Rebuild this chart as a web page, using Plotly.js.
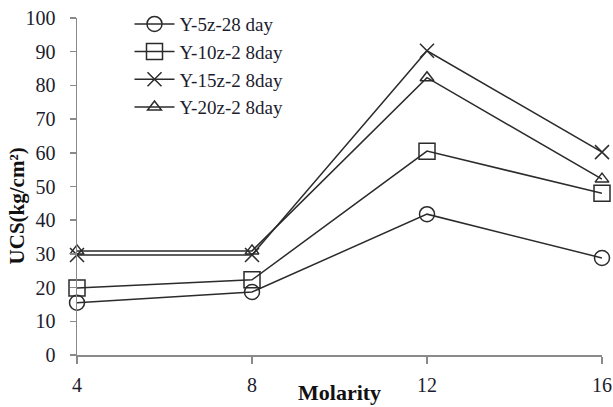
<!DOCTYPE html>
<html><head><meta charset="utf-8">
<script src="https://cdn.plot.ly/plotly-3.0.1.min.js"></script>
<style>html,body{margin:0;padding:0;background:#fff}#chart{width:613px;height:407px}</style>
</head><body><div id="chart"></div>
<script>
const molarity = [4, 8, 12, 16];
const seriesNames = ["Y-5z-28 day", "Y-10z-2 8day", "Y-15z-2 8day", "Y-20z-2 8day"];
const y5 = [15.5, 18.7, 41.8, 28.8];
const y10 = [19.9, 22.3, 60.5, 48.0];
const y15 = [29.7, 29.7, 90.3, 60.2];
const y20 = [30.9, 30.9, 82.3, 52.2];
const yTicks = [0,10,20,30,40,50,60,70,80,90,100];
const xTitle = "Molarity";
const yTitle = "UCS(kg/cm²)";

const symbols = ["circle-open", "square-open", "x-thin-open", "triangle-up-open"];
const sizes = [15, 16, 14, 12];
const all = [y5, y10, y15, y20];
const traces = all.map((v, i) => ({
  x: molarity, y: v, name: seriesNames[i], type: "scatter", mode: "lines+markers",
  line: {color: "#2b2b2b", width: 1.5},
  marker: {symbol: symbols[i], size: sizes[i], color: "#2b2b2b", line: {color: "#2b2b2b", width: 1.5}},
  cliponaxis: false
}));
const font = {family: "Liberation Serif, Times New Roman, serif", color: "#1c1c2e"};
const layout = {
  width: 613, height: 407,
  margin: {l: 77, r: 11, t: 4, b: 52},
  paper_bgcolor: "#fff", plot_bgcolor: "#fff",
  font: Object.assign({size: 19}, font),
  showlegend: true,
  legend: {x: 0.1, y: 0.997, xanchor: "left", yanchor: "top", bgcolor: "rgba(0,0,0,0)",
    font: Object.assign({size: 19}, font), tracegroupgap: 0, itemwidth: 40},
  xaxis: {range: [4, 16], tickvals: molarity, ticktext: molarity.map(String),
    showgrid: false, zeroline: false, showline: true, linecolor: "#8a8a8a", linewidth: 1.5,
    ticks: "outside", ticklen: 7, tickcolor: "#8a8a8a", tickwidth: 1.5,
    ticklabelstandoff: 4, tickfont: Object.assign({size: 20}, font)},
  yaxis: {range: [0, 100], domain: [0, 0.96], tickvals: yTicks, ticktext: yTicks.map(String),
    showgrid: false, zeroline: false, showline: true, linecolor: "#8a8a8a", linewidth: 1.5,
    ticks: "outside", ticklen: 6, tickcolor: "#8a8a8a", tickwidth: 1.5,
    ticklabelstandoff: 10, tickfont: Object.assign({size: 20}, font)},
  annotations: [
    {text: "<b>" + xTitle + "</b>", xref: "paper", yref: "paper", x: 0.5, y: -0.107, xanchor: "center", yanchor: "middle",
     showarrow: false, font: Object.assign({size: 22}, font, {color: "#111"})},
    {text: "<b>" + yTitle + "</b>", xref: "paper", yref: "paper", x: -0.115, y: 0.425, xanchor: "center", yanchor: "middle",
     textangle: -90, showarrow: false, font: Object.assign({size: 21}, font, {color: "#111"})}
  ]
};
Plotly.newPlot("chart", traces, layout, {displayModeBar: false, staticPlot: true});
</script></body></html>
